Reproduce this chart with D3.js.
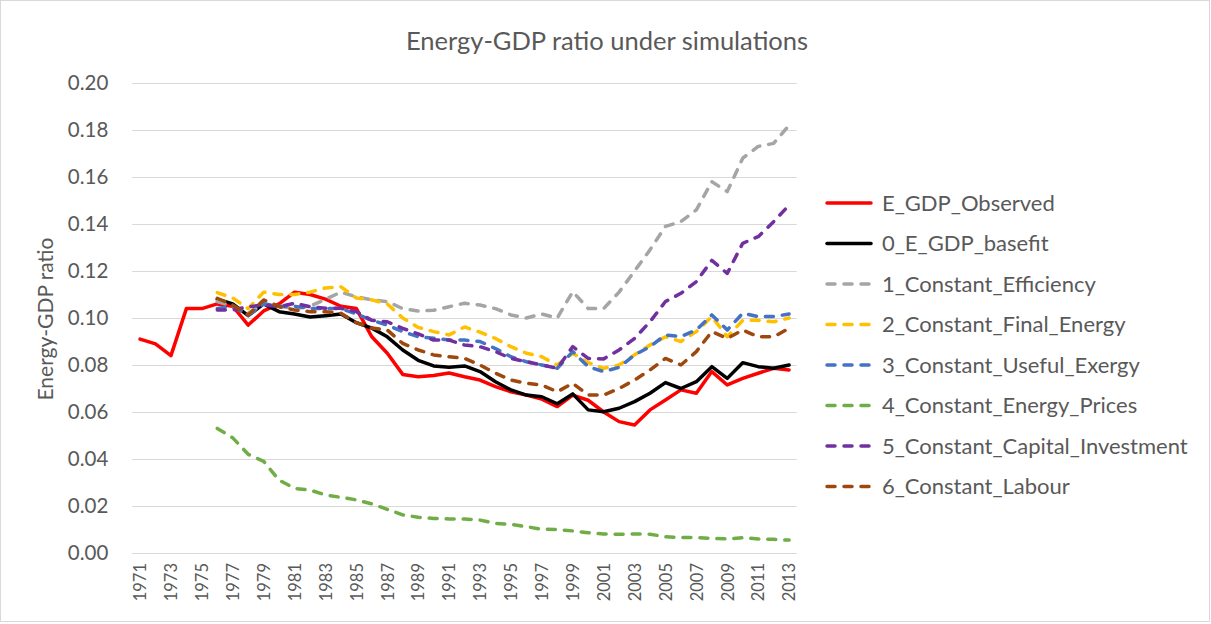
<!DOCTYPE html>
<html>
<head>
<meta charset="utf-8">
<script src="https://cdn.jsdelivr.net/npm/d3@7"></script>
<style>
  html, body { margin: 0; padding: 0; background: #fff; }
  svg { display: block; }
  text { font-family: Lato, "Open Sans", sans-serif; fill: #595959; }
</style>
</head>
<body>
<div id="chart"></div>
<script>
const years = d3.range(1971, 2014);
const yTicks = [0, 0.02, 0.04, 0.06, 0.08, 0.10, 0.12, 0.14, 0.16, 0.18, 0.20];
const xTickYears = years.filter(y => (y - 1971) % 2 === 0);

const N = null;
const observed = [0.091, 0.089, 0.084, 0.104, 0.104, 0.106, 0.105, 0.097, 0.103, 0.106,
  0.111, 0.110, 0.108, 0.105, 0.104, 0.092, 0.085, 0.076, 0.075, 0.0755,
  0.0766, 0.075, 0.0736, 0.0708, 0.0686, 0.0672, 0.0655, 0.0623, 0.0672, 0.065,
  0.060, 0.0559, 0.0545, 0.0609, 0.0651, 0.0694, 0.068, 0.0772, 0.0715, 0.0743,
  0.0765, 0.0786, 0.0779];
const basefit = [N, N, N, N, N, 0.108, 0.106, 0.101, 0.106, 0.1027,
  0.1017, 0.1004, 0.101, 0.1017, 0.098, 0.0957, 0.092, 0.0864, 0.082, 0.0796,
  0.079, 0.0796, 0.0772, 0.0729, 0.0694, 0.0672, 0.0665, 0.0635, 0.0677, 0.0609,
  0.0601, 0.0616, 0.0644, 0.068, 0.0725, 0.070, 0.0729, 0.0793, 0.0743, 0.081,
  0.0793, 0.0786, 0.080];
const efficiency = [N, N, N, N, N, 0.107, 0.105, 0.102, 0.106, 0.105,
  0.104, 0.105, 0.108, 0.111, 0.109, 0.1077, 0.107, 0.104, 0.103, 0.1033,
  0.1048, 0.1063, 0.1055, 0.104, 0.1013, 0.100, 0.1017, 0.100, 0.1112, 0.104,
  0.104, 0.111, 0.120, 0.129, 0.139, 0.141, 0.146, 0.158, 0.1538, 0.168,
  0.173, 0.1743, 0.182];
const finalEnergy = [N, N, N, N, N, 0.1108, 0.1085, 0.104, 0.111, 0.110,
  0.110, 0.111, 0.1128, 0.1133, 0.1085, 0.1077, 0.106, 0.100, 0.096, 0.0942,
  0.0928, 0.0962, 0.094, 0.0913, 0.0878, 0.085, 0.0835, 0.080, 0.085, 0.081,
  0.0786, 0.080, 0.0843, 0.0885, 0.092, 0.090, 0.0942, 0.1006, 0.092, 0.099,
  0.099, 0.0984, 0.100];
const usefulExergy = [N, N, N, N, N, 0.104, 0.105, 0.101, 0.106, 0.105,
  0.105, 0.104, 0.104, 0.104, 0.1017, 0.099, 0.097, 0.0942, 0.092, 0.0914,
  0.0906, 0.0906, 0.090, 0.087, 0.0835, 0.0814, 0.080, 0.0786, 0.0857, 0.0793,
  0.0772, 0.079, 0.0843, 0.0878, 0.0928, 0.0921, 0.0949, 0.1013, 0.0949, 0.102,
  0.1006, 0.1006, 0.1017];
const energyPrices = [N, N, N, N, N, 0.053, 0.049, 0.042, 0.039, 0.031,
  0.0275, 0.0268, 0.0247, 0.0237, 0.0226, 0.0209, 0.0186, 0.0162, 0.0152, 0.0147,
  0.0145, 0.0145, 0.014, 0.0126, 0.0122, 0.0112, 0.0101, 0.010, 0.0094, 0.0086,
  0.0081, 0.008, 0.0081, 0.008, 0.0069, 0.0066, 0.0066, 0.0062, 0.006, 0.0065,
  0.006, 0.0058, 0.0055];
const capitalInvestment = [N, N, N, N, N, 0.1034, 0.1034, 0.1048, 0.1055, 0.1048,
  0.1063, 0.1048, 0.1041, 0.1041, 0.1027, 0.099, 0.0984, 0.0956, 0.0932, 0.0906,
  0.0906, 0.0885, 0.0878, 0.0857, 0.0828, 0.0814, 0.080, 0.0786, 0.0878, 0.0828,
  0.0826, 0.0864, 0.0913, 0.0984, 0.107, 0.1105, 0.1155, 0.1245, 0.119, 0.1318,
  0.1346, 0.141, 0.148];
const labour = [N, N, N, N, N, 0.1084, 0.1055, 0.1013, 0.1077, 0.1048,
  0.1034, 0.1027, 0.1027, 0.102, 0.098, 0.0957, 0.0949, 0.0892, 0.0864, 0.0843,
  0.0835, 0.0828, 0.080, 0.0765, 0.0736, 0.0722, 0.0715, 0.0686, 0.0722, 0.0672,
  0.0672, 0.070, 0.0736, 0.0779, 0.0828, 0.080, 0.0857, 0.0942, 0.0913, 0.0949,
  0.092, 0.092, 0.0956];

const seriesNames = ["E_GDP_Observed", "0_E_GDP_basefit", "1_Constant_Efficiency",
  "2_Constant_Final_Energy", "3_Constant_Useful_Exergy", "4_Constant_Energy_Prices",
  "5_Constant_Capital_Investment", "6_Constant_Labour"];
const seriesValues = [observed, basefit, efficiency, finalEnergy, usefulExergy,
  energyPrices, capitalInvestment, labour];
const seriesColors = ["#FF0000", "#000000", "#A5A5A5", "#FFC000", "#4472C4",
  "#70AD47", "#7030A0", "#9E480E"];
const seriesDashed = [false, false, true, true, true, true, true, true];

const W = 1211, H = 624;
const plot = { left: 132.3, right: 796.8, top: 83, bottom: 553 };

const svg = d3.select("#chart").append("svg").attr("width", W).attr("height", H);

svg.append("rect").attr("x", 0.5).attr("y", 0.5).attr("width", W - 2).attr("height", H - 3)
  .attr("fill", "#fff").attr("stroke", "#d9d9d9");

const x = d3.scalePoint().domain(years).range([plot.left, plot.right]).padding(0.5);
const y = d3.scaleLinear().domain([0, 0.2]).range([plot.bottom, plot.top]);

// gridlines
svg.append("g")
  .attr("transform", `translate(${plot.left},0)`)
  .call(d3.axisLeft(y).tickValues(yTicks).tickSize(-(plot.right - plot.left)).tickFormat(""))
  .call(g => g.select(".domain").remove())
  .call(g => g.selectAll("line").attr("stroke", "#d9d9d9").attr("stroke-width", 1));

// y labels
svg.append("g")
  .attr("transform", `translate(${plot.left - 24},0)`)
  .call(d3.axisLeft(y).tickValues(yTicks).tickSize(0).tickFormat(d3.format(".2f")))
  .call(g => g.select(".domain").remove())
  .call(g => g.selectAll("text").attr("font-size", 20.5).attr("fill", "#595959")
    .attr("font-family", "Lato, sans-serif").attr("text-anchor", "end").attr("x", 0));

// x labels
svg.append("g")
  .attr("transform", `translate(0,${plot.bottom})`)
  .call(d3.axisBottom(x).tickValues(xTickYears).tickSize(0))
  .call(g => g.select(".domain").remove())
  .call(g => g.selectAll("text")
    .attr("font-size", 16.5).attr("fill", "#595959").attr("font-family", "Lato, sans-serif")
    .attr("transform", "rotate(-90)").attr("text-anchor", "end")
    .attr("x", -10).attr("y", 0).attr("dy", "0.35em"));

// title
svg.append("text").attr("x", 607).attr("y", 50).attr("text-anchor", "middle")
  .attr("font-size", 25.5).text("Energy-GDP ratio under simulations");

// y axis title
svg.append("text").attr("transform", `translate(53,319) rotate(-90)`)
  .attr("text-anchor", "middle").attr("font-size", 21).text("Energy-GDP ratio");

// lines
const line = d3.line()
  .defined(d => d.v !== null)
  .x(d => x(d.year))
  .y(d => y(d.v));

seriesValues.forEach((vals, i) => {
  const data = years.map((yr, j) => ({ year: yr, v: vals[j] }));
  svg.append("path")
    .datum(data)
    .attr("fill", "none")
    .attr("stroke", seriesColors[i])
    .attr("stroke-width", 3.5)
    .attr("stroke-linejoin", "round")
    .attr("stroke-linecap", "round")
    .attr("stroke-dasharray", seriesDashed[i] ? "8,9" : null)
    .attr("d", line);
});

// legend
const legendY0 = 203, legendStep = 40.5;
const legend = svg.append("g");
seriesNames.forEach((name, i) => {
  const ly = legendY0 + i * legendStep;
  legend.append("line")
    .attr("x1", 827).attr("x2", 871).attr("y1", ly).attr("y2", ly)
    .attr("stroke", seriesColors[i]).attr("stroke-width", 3.5)
    .attr("stroke-linecap", "round")
    .attr("stroke-dasharray", seriesDashed[i] ? "8,9" : null);
  legend.append("text").attr("x", 882).attr("y", ly).attr("dy", "0.35em")
    .attr("font-size", 22).text(name);
});
</script>
</body>
</html>
